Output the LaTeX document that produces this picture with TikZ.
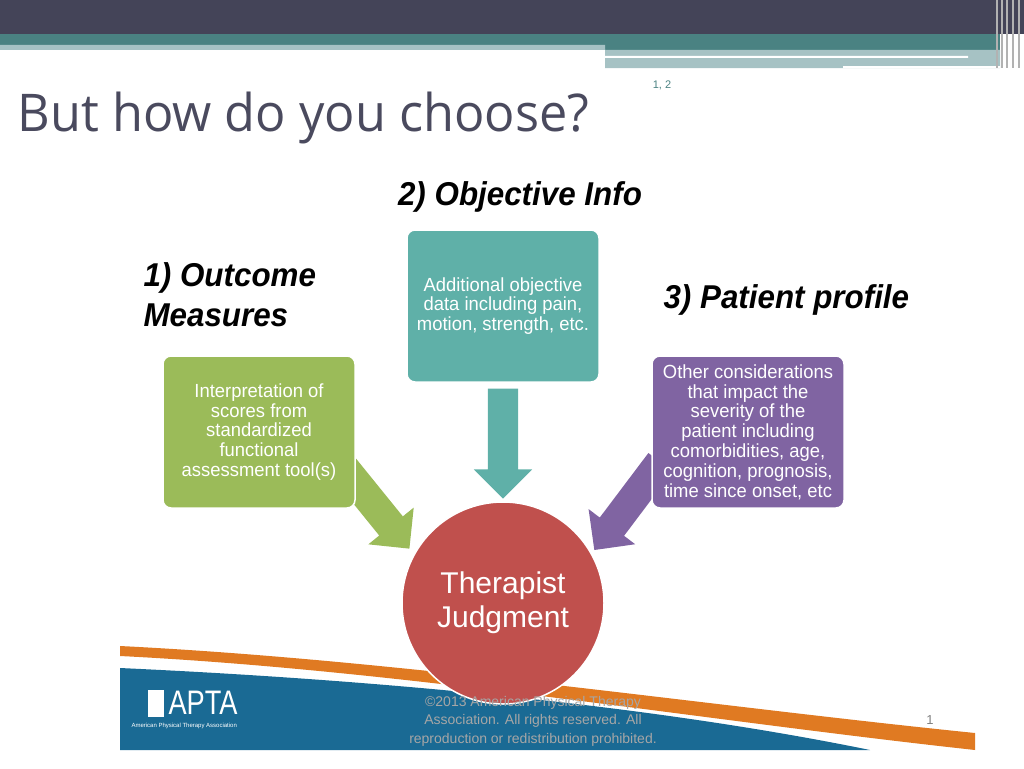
\documentclass[tikz,border=0pt]{standalone}
\usepackage{fontspec}
\setmainfont{Liberation Sans}
\newfontfamily\titlefont{Open Sans}
\usetikzlibrary{shapes.arrows}
\definecolor{topbar}{HTML}{444458}
\definecolor{tealband}{HTML}{4A8282}
\definecolor{paleteal}{HTML}{A6C2C4}
\definecolor{titlegray}{HTML}{4A4A5E}
\definecolor{objteal}{HTML}{5FB0A8}
\definecolor{outgreen}{HTML}{9BBB59}
\definecolor{patpurple}{HTML}{8064A2}
\definecolor{judgered}{HTML}{C0504D}
\definecolor{aptablue}{HTML}{1A6A94}
\definecolor{aptaorange}{HTML}{E07A22}
\tikzset{
  infobox/.style={rounded corners=8pt,draw=white,line width=1.5pt,minimum width=192pt,minimum height=152pt,
    inner xsep=2pt,align=center,text=white,font=\fontsize{19}{19.8}\selectfont\addfontfeature{FakeStretch=0.97}},
  blockarrow/.style={single arrow,minimum height=110pt,inner sep=15pt,single arrow head extend=14pt},
  heading/.style={font=\fontsize{33}{40}\selectfont\bfseries\itshape\addfontfeature{FakeStretch=0.95},anchor=west,align=left}
}
\begin{document}
\begin{tikzpicture}[x=1pt,y=-1pt]
\useasboundingbox (0,0) rectangle (1024,768);
% slide frame
\fill[topbar] (0,0) rectangle (1024,34);
\fill[tealband] (0,34) rectangle (1000,50);
\fill[paleteal] (0,45) rectangle (605,50) (605,50) rectangle (1000,68);
\fill[white] (605,56) rectangle (968,58) (843,66) rectangle (1000,68);
\foreach \sx in {996,1001,1006,1012,1018}
  \fill[gray!60] (\sx,0) rectangle ++(2,68);
% footer band
\fill[aptablue] (120,668) .. controls (380,680) and (650,705) .. (870,750) -- (120,750) -- cycle;
\fill[aptaorange] (120,646) .. controls (400,660) and (700,705) .. (975,733) -- (975,750)
  .. controls (700,720) and (400,670) .. (120,656) -- cycle;
% title
\node[anchor=base west,text=titlegray,font=\titlefont\fontsize{52}{56}\selectfont\addfontfeature{FakeStretch=0.97}] (title) at (14,131) {But how do you choose?};
\node[text=tealband,font=\rmfamily\fontsize{11}{12}\selectfont] (refs) at (662,85) {1, 2};
% headings
\node[heading,anchor=center] (objhead) at (520,197) {2) Objective Info};
\node[heading] (outhead) at (140,295) {1) Outcome\\Measures};
\node[heading] (pathead) at (660,300) {3) Patient profile};
% arrows
\node[blockarrow,fill=objteal,rotate=-90] (objarrow) at (503,436) {};
\node[blockarrow,fill=outgreen,rotate=-51] (outarrow) at (370,500) {};
\node[blockarrow,fill=patpurple,rotate=-127] (patarrow) at (632,500) {};
% boxes
\node[infobox,fill=objteal] (objbox) at (503,306) {Additional objective\\data including pain,\\motion, strength, etc.};
\node[infobox,fill=outgreen] (outbox) at (259,432) {Interpretation of\\scores from\\standardized\\functional\\assessment tool(s)};
\node[infobox,fill=patpurple] (patbox) at (748,432) {Other considerations\\that impact the\\severity of the\\patient including\\comorbidities, age,\\cognition, prognosis,\\time since onset, etc};
% judgment
\node[circle,fill=judgered,draw=white,line width=1.5pt,minimum size=202pt,text=white,align=center,
  font=\fontsize{30}{34}\selectfont] (judge) at (503,603) {Therapist\\Judgment};
% footer texts
\node[anchor=west,text=white,font=\fontsize{34}{34}\selectfont\addfontfeature{FakeStretch=0.8}] (apta) at (165,703) {APTA};
\fill[white] (148,690) rectangle (164,717);
\node[anchor=west,text=white,font=\rmfamily\fontsize{6}{7}\selectfont] (aptaname) at (128,726) {American Physical Therapy Association};
\node[text=gray!70,align=center,font=\fontsize{14}{18.5}\selectfont] (copyright) at (533,721)
  {©2013 American Physical Therapy\\Association. All rights reserved. All\\reproduction or redistribution prohibited.};
\node[text=gray,font=\fontsize{13}{14}\selectfont] (pagenum) at (930,720) {1};
\end{tikzpicture}
\end{document}
